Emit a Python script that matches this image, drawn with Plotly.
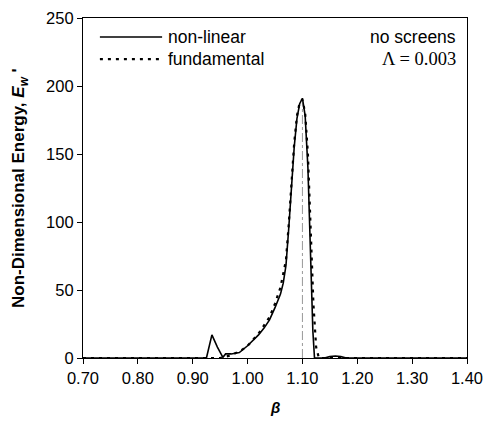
import plotly.graph_objects as go

# Data
beta_nl = [0.70, 0.92, 0.925, 0.935, 0.945, 0.955, 0.96, 0.97, 0.985, 1.00, 1.01, 1.02,
           1.03, 1.04, 1.05, 1.06, 1.065, 1.07, 1.075, 1.08, 1.085, 1.09, 1.095, 1.10,
           1.105, 1.11, 1.115, 1.119, 1.122, 1.14, 1.15, 1.16, 1.17, 1.18, 1.40]
E_nl = [0, 0, 0, 17, 8, 0.5, 3, 3, 4, 9, 13, 17,
        22, 28, 37, 47, 55, 68, 95, 125, 155, 176, 187, 191,
        178, 140, 75, 20, 0, 0, 1, 1.5, 1, 0, 0]

beta_f = [0.70, 0.95, 0.97, 0.99, 1.00, 1.02, 1.04, 1.05, 1.06, 1.07, 1.075, 1.08,
          1.085, 1.09, 1.095, 1.10, 1.105, 1.11, 1.115, 1.12, 1.125, 1.13, 1.40]
E_f = [0, 0, 2, 6, 9, 18, 30, 40, 52, 72, 98, 128,
       158, 178, 188, 190, 180, 150, 95, 40, 8, 0, 0]

vline_x = [1.10, 1.10]
vline_y = [0, 188]

x_ticks = [0.70, 0.80, 0.90, 1.00, 1.10, 1.20, 1.30, 1.40]
x_ticklabels = ["0.70", "0.80", "0.90", "1.00", "1.10", "1.20", "1.30", "1.40"]
y_ticks = [0, 50, 100, 150, 200, 250]

DOT = "3px,5px"

fig = go.Figure()
fig.add_trace(go.Scatter(x=vline_x, y=vline_y, mode="lines",
                         line=dict(color="#999999", width=1, dash="dashdot"),
                         showlegend=False, hoverinfo="skip"))
fig.add_trace(go.Scatter(x=beta_f, y=E_f, mode="lines", name="fundamental",
                         line=dict(color="black", width=2.2, dash=DOT),
                         showlegend=False))
fig.add_trace(go.Scatter(x=beta_nl, y=E_nl, mode="lines", name="non-linear",
                         line=dict(color="black", width=1.6),
                         showlegend=False))

SANS = "Liberation Sans, Arial, sans-serif"
tickfont = dict(family=SANS, size=16.5, color="black")
textfont = dict(family=SANS, size=17.5, color="black")

fig.update_layout(
    width=487, height=421, autosize=False,
    margin=dict(l=83, r=20, t=18, b=63, autoexpand=False),
    paper_bgcolor="white", plot_bgcolor="white",
    font=textfont,
    xaxis=dict(range=[0.70, 1.40], tickvals=x_ticks, ticktext=x_ticklabels,
               showgrid=False, zeroline=False, showline=True, linecolor="black",
               linewidth=1.2, mirror=True, ticks="outside", ticklen=5,
               tickcolor="black", tickfont=tickfont, automargin=False),
    yaxis=dict(range=[0, 250], tickvals=y_ticks,
               showgrid=False, zeroline=False, showline=True, linecolor="black",
               linewidth=1.2, mirror=True, ticks="outside", ticklen=5,
               tickcolor="black", tickfont=tickfont, automargin=False),
    showlegend=False,
)

# Legend drawn as line samples + text
fig.add_shape(type="line", xref="paper", yref="paper", x0=0.044, x1=0.206,
              y0=0.944, y1=0.944, line=dict(color="black", width=1.6))
fig.add_shape(type="line", xref="paper", yref="paper", x0=0.044, x1=0.206,
              y0=0.879, y1=0.879, line=dict(color="black", width=2.2, dash=DOT))
fig.add_annotation(xref="paper", yref="paper", x=0.216, y=0.944, text="non-linear",
                   showarrow=False, xanchor="left", yanchor="middle", font=textfont)
fig.add_annotation(xref="paper", yref="paper", x=0.216, y=0.879, text="fundamental",
                   showarrow=False, xanchor="left", yanchor="middle", font=textfont)
fig.add_annotation(xref="paper", yref="paper", x=0.976, y=0.944, text="no screens",
                   showarrow=False, xanchor="right", yanchor="middle", font=textfont)
fig.add_annotation(xref="paper", yref="paper", x=0.976, y=0.879, text="Λ = 0.003",
                   showarrow=False, xanchor="right", yanchor="middle",
                   font=dict(family="Liberation Serif, Times New Roman, serif", size=18.5, color="black"))

# Axis titles
fig.add_annotation(xref="paper", yref="paper", x=-0.164, y=0.5,
                   text="<b>Non-Dimensional Energy, <i>E<sub>w</sub></i> '</b>",
                   textangle=-90, showarrow=False, xanchor="center", yanchor="middle",
                   font=dict(family=SANS, size=17, color="black"))
fig.add_annotation(xref="paper", yref="paper", x=0.5, y=-0.147,
                   text="<b><i>β</i></b>", showarrow=False, xanchor="center", yanchor="middle",
                   font=dict(family=SANS, size=15, color="black"))

fig.write_html("out.html", config={"displayModeBar": False, "responsive": False},
               post_script="document.body.style.margin='0px';document.body.style.overflow='hidden';")
